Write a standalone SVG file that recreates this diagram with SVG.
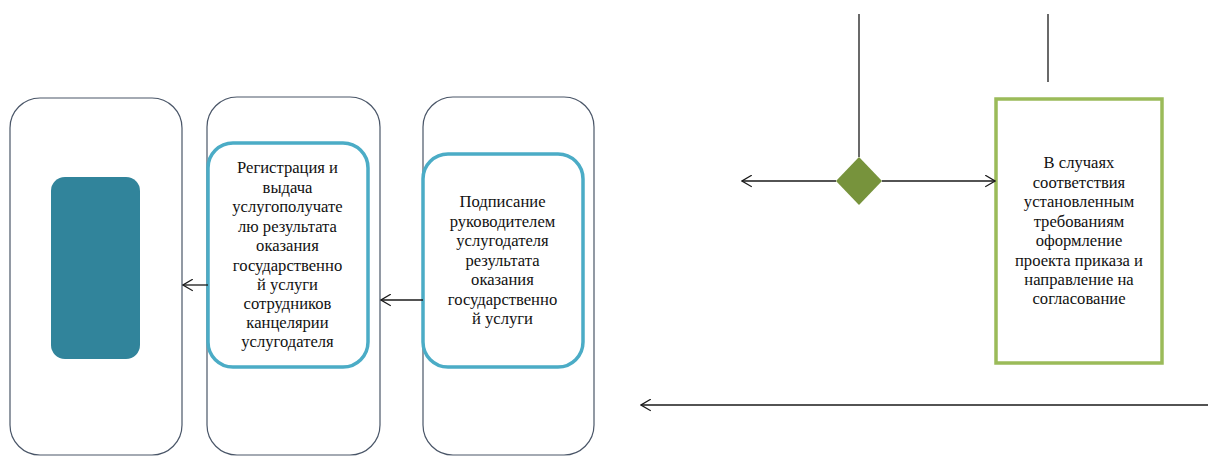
<svg xmlns="http://www.w3.org/2000/svg" width="1208" height="456" viewBox="0 0 1208 456">
<style>
.lane{fill:#fff;stroke:#4a5668;stroke-width:1.2}
.tnode{fill:#fff;stroke:#4BACC6;stroke-width:3.5}
.gnode{fill:#fff;stroke:#9BBB59;stroke-width:3.5}
.con{fill:none;stroke:#1a1a1a;stroke-width:1.3}
.lbl{font-size:16.6px;fill:#111;text-anchor:middle}
</style>
<defs>
<marker id="arr" viewBox="0 0 11 13" markerWidth="11" markerHeight="13" refX="10.3" refY="6.5" orient="auto" markerUnits="userSpaceOnUse">
<path d="M0.5,0.7 L10.3,6.5 L0.5,12.3" fill="none" stroke="#1a1a1a" stroke-width="1.3"/>
</marker>
</defs>
<g id="lane1"><rect class="lane" x="10" y="98" width="172" height="357" rx="30"/></g>
<g id="lane2"><rect class="lane" x="207" y="97" width="173" height="358" rx="30"/></g>
<g id="lane3"><rect class="lane" x="423" y="97" width="171" height="358" rx="30"/></g>
<g id="end"><rect x="51" y="177" width="89" height="182" rx="14" fill="#31849B"/></g>
<g id="node-registration">
<rect class="tnode" x="208" y="143" width="160" height="224" rx="25"/>
<text class="lbl" font-family="Liberation Serif"><tspan x="287.5" y="173">Регистрация и</tspan><tspan x="287.5" y="193">выдача</tspan><tspan x="287.5" y="212">услугополучате</tspan><tspan x="287.5" y="232">лю результата</tspan><tspan x="287.5" y="251">оказания</tspan><tspan x="287.5" y="271">государственно</tspan><tspan x="287.5" y="290">й услуги</tspan><tspan x="287.5" y="309">сотрудников</tspan><tspan x="287.5" y="328">канцелярии</tspan><tspan x="287.5" y="347">услугодателя</tspan></text>
</g>
<g id="node-signing">
<rect class="tnode" x="423" y="154" width="160" height="213" rx="25"/>
<text class="lbl" font-family="Liberation Serif"><tspan x="502.5" y="207">Подписание</tspan><tspan x="502.5" y="227">руководителем</tspan><tspan x="502.5" y="246">услугодателя</tspan><tspan x="502.5" y="266">результата</tspan><tspan x="502.5" y="285">оказания</tspan><tspan x="502.5" y="305">государственно</tspan><tspan x="502.5" y="324">й услуги</tspan></text>
</g>
<g id="decision"><polygon points="859,157 882,181 859,205 836,181" fill="#77933C"/></g>
<g id="node-draft">
<rect class="gnode" x="996" y="99" width="166" height="264"/>
<text class="lbl" font-family="Liberation Serif"><tspan x="1079" y="168">В случаях</tspan><tspan x="1079" y="188">соответствия</tspan><tspan x="1079" y="207">установленным</tspan><tspan x="1079" y="227">требованиям</tspan><tspan x="1079" y="246">оформление</tspan><tspan x="1079" y="266">проекта приказа и</tspan><tspan x="1079" y="285">направление на</tspan><tspan x="1079" y="304">согласование</tspan></text>
</g>
<g id="connectors">
<line class="con" x1="208" y1="285" x2="183" y2="285" marker-end="url(#arr)"/>
<line class="con" x1="423" y1="300" x2="381" y2="300" marker-end="url(#arr)"/>
<line class="con" x1="859" y1="14" x2="859" y2="157"/>
<line class="con" x1="1048" y1="14" x2="1048" y2="82"/>
<line class="con" x1="836" y1="181" x2="742" y2="181" marker-end="url(#arr)"/>
<line class="con" x1="882" y1="181" x2="995" y2="181" marker-end="url(#arr)"/>
<line class="con" x1="1208" y1="405" x2="641" y2="405" marker-end="url(#arr)"/>
</g>
</svg>
